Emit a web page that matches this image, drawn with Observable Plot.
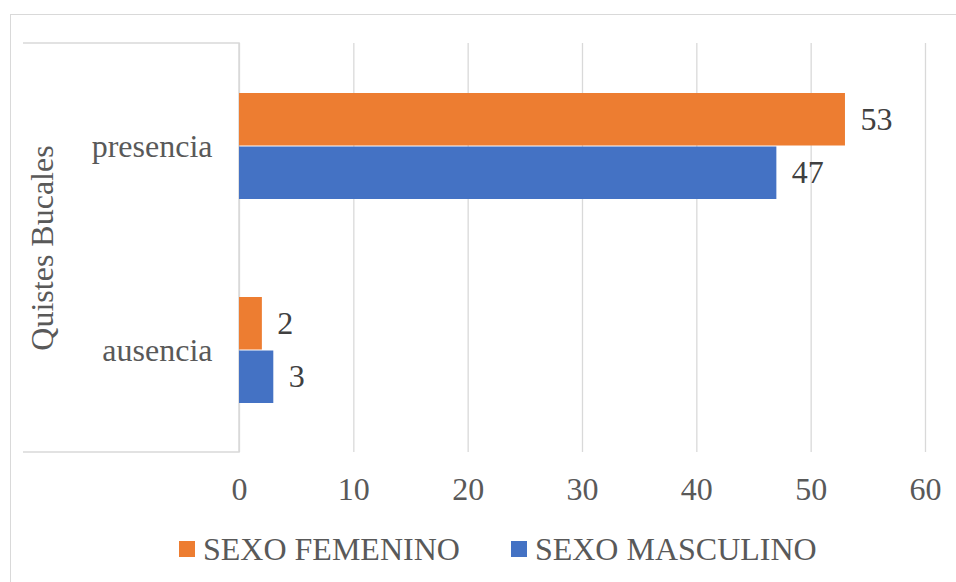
<!DOCTYPE html>
<html>
<head>
<meta charset="utf-8">
<script src="https://cdn.jsdelivr.net/npm/d3@7"></script>
<script src="https://cdn.jsdelivr.net/npm/@observablehq/plot@0.6"></script>
<style>
  body { margin: 0; background: #fff; }
  #wrap { position: relative; width: 956px; height: 582px; overflow: hidden; background: #fff;
          font-family: "Liberation Serif", "Times New Roman", serif; }
  #border { position: absolute; left: 10px; top: 14px; width: 2000px; height: 2000px;
            border-top: 1.5px solid #d9d9d9; border-left: 1.5px solid #d9d9d9; box-sizing: border-box; }
  #chart { position: absolute; left: 0; top: 0; }
  #legend { position: absolute; left: 0; top: 520px; width: 956px; height: 58px; box-sizing: border-box;
            padding-left: 179px; display: flex; align-items: center; color: #595959; font-size: 32px; }
  .item { display: flex; align-items: center; margin-right: 51px; white-space: nowrap; }
  .sw { width: 16px; height: 16px; margin-right: 8px; }
</style>
</head>
<body>
<div id="wrap">
  <div id="border"></div>
  <div id="chart"></div>
  <div id="legend"></div>
</div>
<script>
const categories = ["presencia", "ausencia"];
const seriesNames = ["SEXO FEMENINO", "SEXO MASCULINO"];
const femenino = [53, 2];
const masculino = [47, 3];
const xTicks = [0, 10, 20, 30, 40, 50, 60];
const colors = ["#ED7D31", "#4472C4"];
const axisTitle = "Quistes Bucales";

const rowsF = categories.map((c, i) => ({cat: c, series: seriesNames[0], value: femenino[i]}));
const rowsM = categories.map((c, i) => ({cat: c, series: seriesNames[1], value: masculino[i]}));

// category axis box (multi-level label frame) drawn from the scales
const categoryBox = (index, scales, values, dims) => {
  const x0 = scales.x(0);
  const top = dims.marginTop, bottom = dims.height - dims.marginBottom;
  const left = 23;
  const g = d3.create("svg:g").attr("stroke", "#d9d9d9").attr("stroke-width", 1.5).attr("fill", "none");
  g.append("path").attr("d", `M${left},${top}H${x0}V${bottom}H${left}`);
  return g.node();
};

const plot = Plot.plot({
  width: 956,
  height: 520,
  marginLeft: 239,
  marginRight: 31,
  marginTop: 43,
  marginBottom: 68,
  style: {fontFamily: "Liberation Serif, Times New Roman, serif", fontSize: "32px", color: "#595959", background: "transparent"},
  x: {domain: [0, 60], ticks: xTicks},
  y: {domain: categories, padding: 0},
  color: {domain: seriesNames, range: colors},
  marks: [
    Plot.gridX(xTicks, {stroke: "#d9d9d9", strokeWidth: 1.3, strokeOpacity: 1}),
    categoryBox,
    Plot.barX(rowsF, {x: "value", y: "cat", fill: "series", insetTop: 49, insetBottom: 102.5}),
    Plot.barX(rowsM, {x: "value", y: "cat", fill: "series", insetTop: 102.5, insetBottom: 49}),
    Plot.text(rowsF, {x: "value", y: "cat", text: "value", dy: -26.6, dx: 15, textAnchor: "start", fill: "#404040"}),
    Plot.text(rowsM, {x: "value", y: "cat", text: "value", dy: 26.6, dx: 15, textAnchor: "start", fill: "#404040"}),
    Plot.axisX(xTicks, {tickSize: 0, tickPadding: 25, label: null}),
    Plot.axisY({tickSize: 0, tickPadding: 27, label: axisTitle, labelAnchor: "center", labelOffset: 209})
  ]
});
document.getElementById("chart").appendChild(plot);

const legend = document.getElementById("legend");
seriesNames.forEach((name, i) => {
  const item = document.createElement("div");
  item.className = "item";
  const sw = document.createElement("div");
  sw.className = "sw";
  sw.style.background = colors[i];
  const t = document.createElement("span");
  t.textContent = name;
  item.appendChild(sw);
  item.appendChild(t);
  legend.appendChild(item);
});
</script>
</body>
</html>
